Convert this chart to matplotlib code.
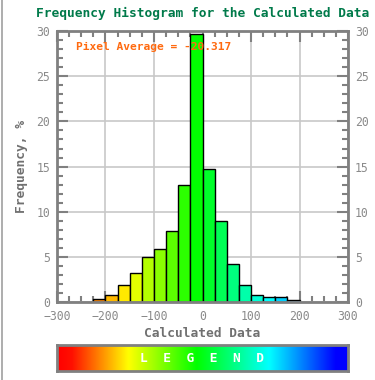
import numpy as np
import matplotlib
matplotlib.use("Agg")
import matplotlib.pyplot as plt
from matplotlib.colors import LinearSegmentedColormap
from matplotlib.lines import Line2D

# Data
bin_left = [-225, -200, -175, -150, -125, -100, -75, -50, -25, 0, 25, 50, 75, 100, 125, 150, 175]
freq = [0.3, 0.8, 1.9, 3.2, 5.0, 5.9, 7.9, 13.0, 29.7, 14.7, 9.0, 4.2, 1.9, 0.8, 0.5, 0.5, 0.2]
bin_width = 25
title = "Frequency Histogram for the Calculated Data"
annotation = "Pixel Average = -20.317"
xlabel = "Calculated Data"
ylabel = "Frequency, %"

cmap = LinearSegmentedColormap.from_list(
    "leg", [(0.0, "#ff0000"), (0.05, "#ff1000"), (0.245, "#ffff00"), (0.48, "#00ff00"),
            (0.73, "#00ffff"), (0.96, "#0000ff"), (1.0, "#0000ff")])

plt.rcParams['font.family'] = ['DejaVu Sans Mono']

fig = plt.figure(figsize=(3.75, 3.8), dpi=100)
ax = fig.add_axes([0.152, 0.2053, 0.776, 0.7127])

centers = np.array(bin_left) + bin_width / 2
colors = [cmap((c + 300) / 600) for c in centers]
ax.bar(bin_left, freq, width=bin_width, align='edge', color=colors,
       edgecolor='black', linewidth=1.0, zorder=3)

ax.set_xlim(-300, 300)
ax.set_ylim(0, 30)
ax.set_xticks(np.arange(-300, 301, 100))
ax.set_xticks(np.arange(-300, 301, 25), minor=True)
ax.set_yticks(np.arange(0, 31, 5))
ax.set_yticks(np.arange(0, 31, 1), minor=True)
ax.grid(True, which='major', color='#c8c8c8', linewidth=1.2, zorder=0)
ax.set_axisbelow(True)

gray = '#808080'
for s in ax.spines.values():
    s.set_color(gray)
    s.set_linewidth(2)
    s.set_zorder(5)
ax.tick_params(which='both', direction='in', color=gray, top=True, right=True,
               labelright=True, labelcolor='#8a8a8a', labelsize=8.3, width=1.5)
ax.tick_params(axis='x', which='both', pad=6)
ax.tick_params(axis='y', which='both', pad=5)
ax.tick_params(which='major', length=8)
ax.tick_params(which='minor', length=4.5)

ax.set_xlabel(xlabel, color='#707070', fontsize=9.3, fontweight='bold', labelpad=3)
ax.set_ylabel(ylabel, color='#707070', fontsize=9.3, fontweight='bold', labelpad=6)
ax.set_title(title, color='#007a4a', fontsize=9.3, fontweight='bold', pad=10.5)

ax.text(0.065, 0.94, annotation, transform=ax.transAxes, color='#ff6a10',
        fontsize=8.1, fontweight='bold', va='center', ha='left', zorder=6)

# Legend gradient bar
lax = fig.add_axes([0.152, 1 - 371 / 380, 0.776, 26 / 380])
grad = np.linspace(0, 1, 512).reshape(1, -1)
lax.imshow(grad, aspect='auto', cmap=cmap, extent=[0, 1, 0, 1])
lax.set_xticks([])
lax.set_yticks([])
for s in lax.spines.values():
    s.set_color(gray)
    s.set_linewidth(2)
lax.text(0.5, 0.5, "L  E  G  E  N  D", color='white', fontsize=9.3,
         fontweight='bold', ha='center', va='center', transform=lax.transAxes)

fig.add_artist(Line2D([0.004, 0.004], [0, 1], color='#a0a0a0', linewidth=1.2,
                      transform=fig.transFigure))

fig.savefig("out.png", dpi=100, facecolor='white')
